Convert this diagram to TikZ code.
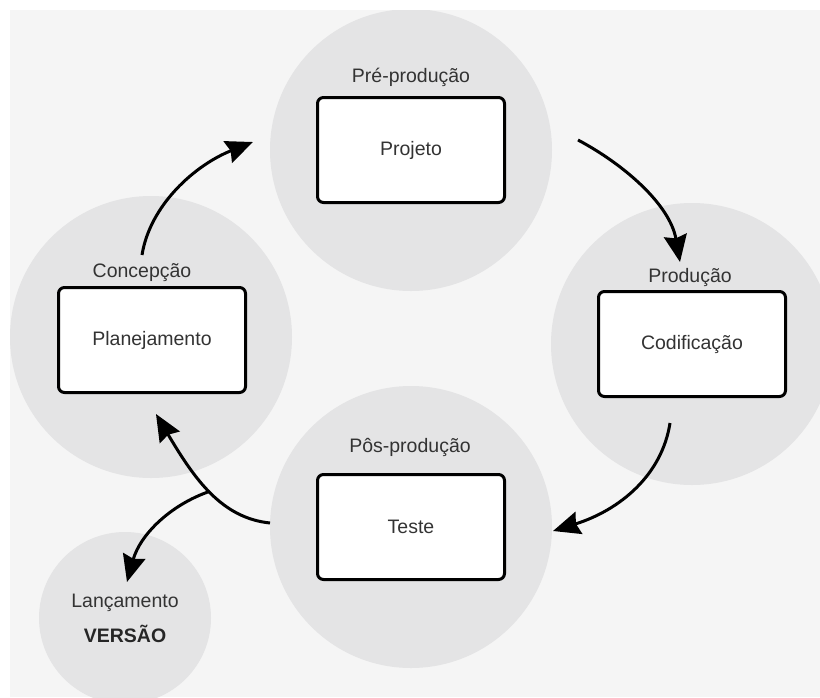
\documentclass[tikz,border=0pt]{standalone}
\usepackage{fontspec}
\setmainfont{Liberation Sans}
\usepackage{xcolor}
\usetikzlibrary{arrows.meta}

\definecolor{fundo}{HTML}{F5F5F5}
\definecolor{circulo}{HTML}{E4E4E5}
\definecolor{texto}{HTML}{333333}

\tikzset{
  fase/.style={circle, fill=circulo, minimum size=282pt, inner sep=0pt},
  caixa/.style={draw=black, line width=3pt, fill=white, rounded corners=6pt,
    minimum width=187pt, minimum height=105pt, text=texto, font=\fontsize{19.5}{22}\selectfont},
  rotulo/.style={text=texto, font=\fontsize{19.5}{22}\selectfont, inner sep=0pt},
  seta/.style={line width=3pt, -{Stealth[length=27pt,width=23pt,inset=3pt]}}
}

\begin{document}
\begin{tikzpicture}[x=1pt,y=-1pt]
    \useasboundingbox (0,0) rectangle (820,697);
    \fill[fundo] (10,10) rectangle (820,697);

    % Circles of the phases
    \begin{scope}
        \clip (10,10) rectangle (820,697);
        \node[fase] (cpre) at (411,150) {};
        \node[fase] (cconc) at (151,337) {};
        \node[fase] (cprod) at (692,344) {};
        \node[fase] (cpos) at (411,527) {};
        \node[fase, minimum size=172pt] (clanc) at (125,618) {};
    \end{scope}

    % Boxes with the activities
    \node[caixa] (projeto) at (cpre) {Projeto};
    \node[caixa] (planej) at (152,340) {Planejamento};
    \node[caixa] (codif) at (cprod) {Codificação};
    \node[caixa] (teste) at (cpos) {Teste};

    % Phase labels
    \node[rotulo] (lpre) at (411,77) {Pré-produção};
    \node[rotulo] (lconc) at (142,273) {Concepção};
    \node[rotulo] (lprod) at (690,277) {Produção};
    \node[rotulo] (lpos) at (410,447) {Pôs-produção};
    \node[rotulo] (llanc) at (125,603) {Lançamento};
    \node[rotulo, text=black!85, font=\fontsize{19.5}{22}\selectfont\bfseries] (lversao) at (125,634) {VERSÃO};

    % Ends of the arrows
    \coordinate (a1) at (142,255);
    \coordinate (b1) at (253,142);
    \coordinate (a2) at (578,140);
    \coordinate (b2) at (680,262);
    \coordinate (a3) at (670,423);
    \coordinate (b3) at (553,531);
    \coordinate (a4) at (270,523);
    \coordinate (b4) at (156,414);
    \coordinate (b5) at (127,582);

    \draw[seta] (a1) .. controls (150,205) and (195,165) .. (b1);
    \draw[seta] (a2) .. controls (625,165) and (670,205) .. (b2);
    \draw[seta] (a3) .. controls (662,475) and (620,510) .. (b3);
    \draw[seta] (a4) .. controls (222,518) and (195,480) .. (b4) node[pos=0.5, coordinate] (ramo) {};
    \draw[seta] (ramo) .. controls (170,505) and (140,535) .. (b5);
\end{tikzpicture}
\end{document}
